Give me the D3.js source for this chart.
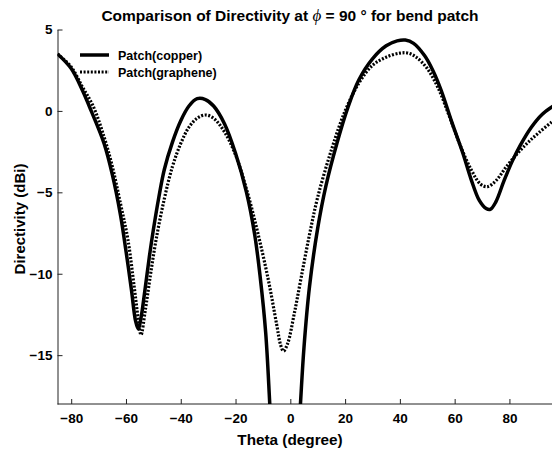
<!DOCTYPE html>
<html>
<head>
<meta charset="utf-8">
<script src="https://cdn.jsdelivr.net/npm/d3@7"></script>
<style>
  body { margin: 0; background: #fff; }
  text { font-family: "Liberation Sans", Arial, sans-serif; font-weight: bold; fill: #000; }
</style>
</head>
<body>
<svg id="chart" width="552" height="455"></svg>
<script>
var width = 552,
    height = 455;

// theta (degree) samples and directivity (dBi)
const copper_theta = [-85, -80, -76, -72.7, -68, -65, -62, -60, -58, -56.5, -55.5, -54.5, -53, -51.5, -50, -48, -46, -43, -40, -37, -34, -31, -28, -24, -20, -16, -13, -11, -9, -7.5, -6,
    2, 3.7, 5, 7, 10, 13, 17, 21, 25, 30, 35, 39, 42, 45, 49, 52, 55, 59, 63, 66, 69, 71.5, 73, 75, 78, 81, 84, 88, 92, 96];
const copper_dbi = [3.5, 2.6, 1.3, 0, -2.0, -3.9, -6.4, -8.6, -11.0, -12.9, -13.4, -12.7, -10.9, -9.0, -7.3, -5.3, -3.6, -1.9, -0.6, 0.3, 0.75, 0.7, 0.3, -0.8, -2.6, -5.0, -7.6, -10.2, -13.6, -18, -23,
    -23, -18, -14.5, -10.8, -7.2, -4.6, -2.0, 0.2, 1.9, 3.2, 4.0, 4.3, 4.35, 4.15, 3.4, 2.5, 1.3, -0.7, -2.6, -4.2, -5.5, -6.0, -6.05, -5.6, -4.3, -3.1, -2.1, -1.0, -0.2, 0.3];

const graphene_theta = [-85, -80, -76, -72, -68, -65, -62, -59.3, -57, -55.5, -54.5, -53, -51, -49, -46, -43, -40, -37, -34, -31, -28, -24, -20, -16, -12, -8, -5, -3.5, -2.5, -1, 1.5, 4, 7, 10, 15, 20, 25, 30, 35, 40, 43, 46, 50, 54, 58, 62, 66, 69.5, 72, 75, 79, 83, 87, 91, 96];
const graphene_dbi = [3.5, 2.7, 1.5, 0.3, -1.6, -3.4, -5.7, -7.9, -10.8, -12.8, -13.75, -12.3, -10.0, -7.9, -5.4, -3.4, -2.0, -1.0, -0.45, -0.25, -0.45, -1.3, -2.7, -4.8, -7.4, -10.4, -13.1, -14.4, -14.75, -14.3, -12.4, -10.2, -7.6, -5.3, -2.4, 0.0, 1.7, 2.8, 3.3, 3.55, 3.55, 3.3, 2.6, 1.4, -0.3, -2.1, -3.6, -4.5, -4.65, -4.3, -3.4, -2.6, -1.9, -1.3, -0.6];

const x_ticks = [-80, -60, -40, -20, 0, 20, 40, 60, 80];
const y_ticks = [5, 0, -5, -10, -15];

const series_names = ["Patch(copper)", "Patch(graphene)"];

var margin = { left: 57.5, top: 29.5, bottom: 404 };

var x = d3.scaleLinear().domain([-85, 100]).range([margin.left, margin.left + 185 * 2.739]);
var y = d3.scaleLinear().domain([-18, 5]).range([margin.bottom, margin.top]);

var svg = d3.select("#chart");

svg.append("defs").append("clipPath").attr("id", "plot-clip")
    .append("rect")
    .attr("x", margin.left).attr("y", margin.top - 10)
    .attr("width", width - margin.left).attr("height", margin.bottom - margin.top + 10);

// Axes (MATLAB style, ticks pointing inward)
var x_axis = d3.axisBottom(x).tickValues(x_ticks).tickSizeInner(-5).tickSizeOuter(0).tickPadding(9);
var y_axis = d3.axisLeft(y).tickValues(y_ticks).tickSizeInner(-5).tickSizeOuter(0).tickPadding(5);

var gx = svg.append("g").attr("transform", "translate(0," + margin.bottom + ")").call(x_axis);
var gy = svg.append("g").attr("transform", "translate(" + margin.left + ",0)").call(y_axis);

[gx, gy].forEach(function (g) {
    g.select(".domain").attr("stroke", "#222").attr("stroke-width", 1);
    g.selectAll(".tick line").attr("stroke", "#222");
    g.selectAll(".tick text").style("font-size", "13.5px");
});
gx.select(".domain").attr("d", "M" + margin.left + ",0H" + width);

// Curves
var line = d3.line()
    .x(function (d) { return x(d[0]); })
    .y(function (d) { return y(d[1]); })
    .curve(d3.curveCatmullRom.alpha(0.5));

var plot = svg.append("g").attr("clip-path", "url(#plot-clip)");

plot.append("path")
    .datum(d3.zip(copper_theta, copper_dbi))
    .attr("fill", "none")
    .attr("stroke", "#000")
    .attr("stroke-width", 3.5)
    .attr("d", line);

plot.append("path")
    .datum(d3.zip(graphene_theta, graphene_dbi))
    .attr("fill", "none")
    .attr("stroke", "#000")
    .attr("stroke-width", 3.2)
    .attr("stroke-dasharray", "2,1.6")
    .attr("d", line);

// Legend
var legend = svg.append("g");
series_names.forEach(function (name, i) {
    var ly = 55 + i * 17;
    legend.append("line")
        .attr("x1", 80).attr("x2", 109)
        .attr("y1", ly).attr("y2", ly)
        .attr("stroke", "#000")
        .attr("stroke-width", i == 0 ? 3.5 : 3.2)
        .attr("stroke-dasharray", i == 0 ? null : "2,1.6");
    legend.append("text")
        .attr("x", 118).attr("y", ly + 4.5)
        .style("font-size", "12.5px")
        .text(name);
});

// Title and axis labels
var title = svg.append("text")
    .attr("x", 290).attr("y", 21)
    .attr("text-anchor", "middle")
    .style("font-size", "15.5px");
title.append("tspan").text("Comparison of Directivity at  ");
title.append("tspan").style("font-family", "'Liberation Serif', 'Times New Roman', serif")
    .style("font-style", "italic").style("font-weight", "normal").style("font-size", "17px").text("\u03D5");
title.append("tspan").text(" = 90 \u00B0 for bend patch");

svg.append("text")
    .attr("x", 290).attr("y", 445)
    .attr("text-anchor", "middle")
    .style("font-size", "15.3px")
    .text("Theta (degree)");

svg.append("text")
    .attr("transform", "translate(25,219) rotate(-90)")
    .attr("text-anchor", "middle")
    .style("font-size", "15px")
    .text("Directivity (dBi)");
</script>
</body>
</html>
